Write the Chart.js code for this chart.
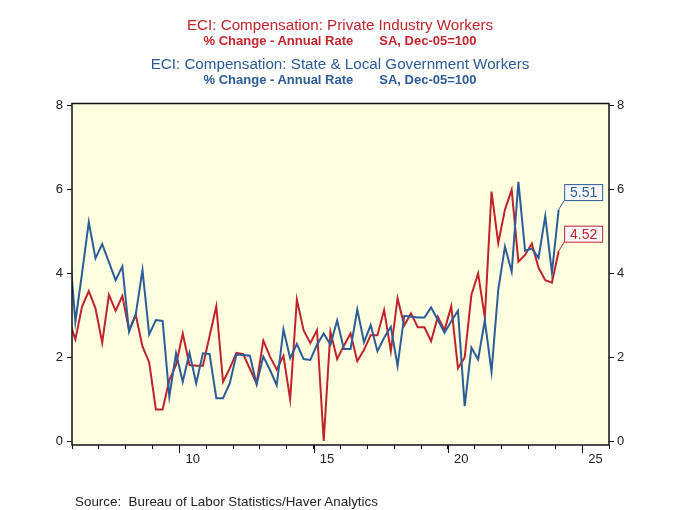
<!DOCTYPE html>
<html>
<head>
<meta charset="utf-8">
<title>ECI: Compensation</title>
<script src="https://cdn.jsdelivr.net/npm/chart.js@4.4.1/dist/chart.umd.min.js"></script>
<style>
    html, body { margin: 0; padding: 0; background: #fff; }
    #wrap { position: relative; width: 680px; height: 510px; font-family: 'Liberation Sans', Arial, sans-serif; }
    #chart { position: absolute; left: 0; top: 0; }
    .hdr { position: absolute; left: 0; width: 680px; text-align: center; white-space: pre; line-height: 1; }
    .t1 { font-size: 15.2px; }
    .t2 { font-size: 13px; font-weight: bold; }
    .gap { margin-left: 26px; }
    .red { color: #c4242b; }
    .blue { color: #2c5b97; }
    #source { position: absolute; left: 75px; top: 494.5px; font-size: 13.4px; line-height: 1; color: #222; white-space: pre; }
</style>
</head>
<body>
<div id="wrap">
    <canvas id="chart" width="680" height="510"></canvas>
    <div class="hdr t1 red" style="top:17.1px">ECI: Compensation: Private Industry Workers</div>
    <div class="hdr t2 red" style="top:34px">% Change - Annual Rate<span class="gap">SA, Dec-05=100</span></div>
    <div class="hdr t1 blue" style="top:56.1px">ECI: Compensation: State &amp; Local Government Workers</div>
    <div class="hdr t2 blue" style="top:73.3px">% Change - Annual Rate<span class="gap">SA, Dec-05=100</span></div>
    <div id="source">Source:  Bureau of Labor Statistics/Haver Analytics</div>
</div>
<script>
// Quarterly series, first value is 2005 Q4
const startYear = 2005;
const startQuarter = 4;

const privateIndustry = [
    2.90,
    2.42, 3.20, 3.57, 3.16,
    2.34, 3.48, 3.10, 3.45,
    2.64, 3.00, 2.25, 1.87,
    0.75, 0.75, 1.45, 1.81,
    2.56, 1.81, 1.79, 1.79,
    2.50, 3.21, 1.41, 1.73,
    2.10, 2.07, 1.72, 1.37,
    2.39, 2.01, 1.70, 2.03,
    0.99, 3.37, 2.64, 2.33,
    2.64, 0.00, 2.60, 1.95,
    2.27, 2.56, 1.90, 2.17,
    2.52, 2.52, 3.12, 2.14,
    3.40, 2.75, 3.04, 2.71,
    2.71, 2.38, 2.96, 2.64,
    3.21, 1.73, 1.99, 3.48,
    3.99, 2.94, 5.94, 4.71,
    5.51, 5.98, 4.27, 4.43,
    4.70, 4.13, 3.83, 3.77,
    4.52
];

const stateLocal = [
    4.82,
    2.84, 4.00, 5.21, 4.35,
    4.69, 4.26, 3.83, 4.16,
    2.60, 3.02, 4.07, 2.54,
    2.88, 2.86, 1.06, 2.09,
    1.41, 2.10, 1.37, 2.09,
    2.07, 1.02, 1.02, 1.37,
    2.06, 2.05, 2.03, 1.35,
    2.01, 1.69, 1.33, 2.66,
    1.97, 2.31, 1.95, 1.93,
    2.29, 2.56, 2.29, 2.87,
    2.19, 2.19, 3.13, 2.35,
    2.76, 2.14, 2.46, 2.72,
    1.79, 2.98, 2.96, 2.94,
    2.94, 3.18, 2.88, 2.58,
    2.85, 3.10, 0.83, 2.22,
    1.94, 2.87, 1.65, 3.60,
    4.63, 4.03, 6.17, 4.53,
    4.58, 4.36, 5.35, 4.01,
    5.51
];

const yTicks = [0, 2, 4, 6, 8];
const xMajorYears = [2010, 2015, 2020, 2025];

const redColor = '#c0232c';
const blueColor = '#2d5d99';

// Place each quarter at the middle of its quarter
function quarterPoints(values) {
    return values.map((v, i) => {
        const q = startQuarter - 1 + i;
        return { x: startYear + Math.floor(q / 4) + ((q % 4) + 0.5) / 4, y: v };
    });
}

// Pale yellow plot area
const plotBackground = {
    id: 'plotBackground',
    beforeDraw(chart) {
        const { ctx, chartArea: a } = chart;
        ctx.save();
        ctx.fillStyle = '#fefee1';
        ctx.fillRect(a.left, a.top, a.right - a.left, a.bottom - a.top);
        ctx.restore();
    }
};

// Frame and longer ticks on the 5-year marks
const plotFrame = {
    id: 'plotFrame',
    afterDraw(chart) {
        const { ctx, chartArea: a } = chart;
        const xScale = chart.scales.x;
        ctx.save();
        ctx.strokeStyle = '#111';
        ctx.lineWidth = 1.5;
        ctx.strokeRect(a.left, a.top, a.right - a.left, a.bottom - a.top);
        ctx.lineWidth = 1;
        xMajorYears.forEach(year => {
            const px = Math.round(xScale.getPixelForValue(year)) + 0.5;
            ctx.beginPath();
            ctx.moveTo(px, a.bottom);
            ctx.lineTo(px, a.bottom + 8);
            ctx.stroke();
        });
        ctx.restore();
    }
};

// Boxed last value next to the end of each line
const endLabels = {
    id: 'endLabels',
    afterDatasetsDraw(chart) {
        const { ctx } = chart;
        chart.data.datasets.forEach((ds, i) => {
            const meta = chart.getDatasetMeta(i);
            const last = meta.data[meta.data.length - 1];
            const value = ds.data[ds.data.length - 1].y;
            const bx = last.x + 5.5;
            const by = last.y - 25.5;
            ctx.save();
            ctx.strokeStyle = ds.borderColor;
            ctx.lineWidth = 1;
            ctx.beginPath();
            ctx.moveTo(last.x, last.y);
            ctx.lineTo(bx, last.y - 9);
            ctx.stroke();
            ctx.fillStyle = '#f7f7f7';
            ctx.fillRect(bx, by, 39, 16.5);
            ctx.strokeRect(bx + 0.5, by + 0.5, 38, 16);
            ctx.fillStyle = ds.borderColor;
            ctx.font = '14px "Liberation Sans", Arial, sans-serif';
            ctx.textAlign = 'center';
            ctx.textBaseline = 'middle';
            ctx.fillText(value.toFixed(2), bx + 19.5, by + 9);
            ctx.restore();
        });
    }
};

document.addEventListener('DOMContentLoaded', function() {
    Chart.defaults.font.family = '"Liberation Sans", Arial, sans-serif';
    Chart.defaults.font.size = 13;
    Chart.defaults.color = '#222';

    const yAxis = (position, width, padding) => ({
        position: position,
        min: -0.095,
        max: 8.036,
        afterBuildTicks: scale => { scale.ticks = yTicks.map(v => ({ value: v })); },
        afterFit: scale => { scale.width = width; },
        ticks: { padding: padding, callback: v => String(v) },
        grid: { drawOnChartArea: false, tickLength: 5, tickColor: '#111' },
        border: { display: false }
    });

    const ctx = document.getElementById('chart').getContext('2d');
    new Chart(ctx, {
        type: 'line',
        data: {
            datasets: [
                {
                    label: 'ECI: Compensation: Private Industry Workers',
                    data: quarterPoints(privateIndustry),
                    borderColor: redColor,
                    borderWidth: 2,
                    pointRadius: 0,
                    tension: 0,
                    order: 2
                },
                {
                    label: 'ECI: Compensation: State & Local Government Workers',
                    data: quarterPoints(stateLocal),
                    borderColor: blueColor,
                    borderWidth: 2,
                    pointRadius: 0,
                    tension: 0,
                    order: 1
                }
            ]
        },
        options: {
            responsive: false,
            animation: false,
            layout: { padding: { top: 103.5, left: 0, right: 0, bottom: 0 } },
            plugins: {
                legend: { display: false },
                tooltip: { enabled: false },
                title: { display: false }
            },
            scales: {
                x: {
                    type: 'linear',
                    min: 2006,
                    max: 2026,
                    afterFit: scale => { scale.height = 65; },
                    ticks: {
                        stepSize: 1,
                        autoSkip: false,
                        maxRotation: 0,
                        labelOffset: 13.4,
                        padding: 3,
                        callback: v => xMajorYears.includes(v) ? String(v).slice(2) : ''
                    },
                    grid: { drawOnChartArea: false, tickLength: 4, tickColor: '#111' },
                    border: { display: false }
                },
                y: yAxis('left', 72, 4),
                y2: yAxis('right', 71, 3)
            }
        },
        plugins: [plotBackground, plotFrame, endLabels]
    });
});
</script>
</body>
</html>
